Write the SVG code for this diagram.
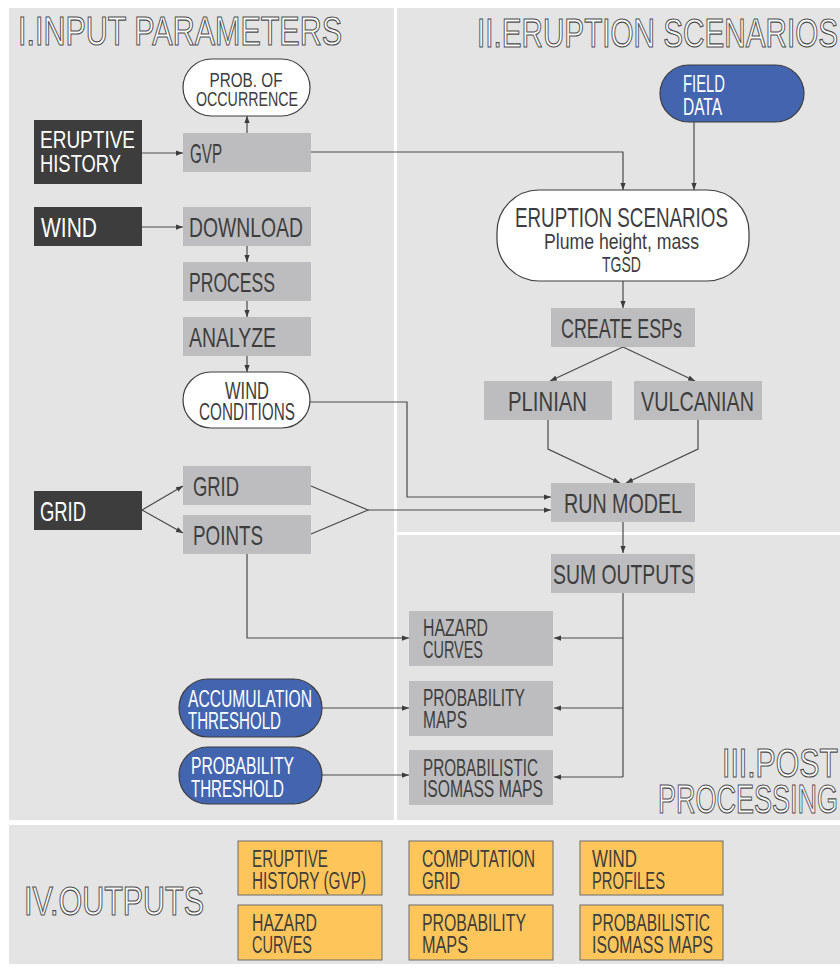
<svg xmlns="http://www.w3.org/2000/svg" width="840" height="968" viewBox="0 0 840 968">
<style>
text{font-family:"Liberation Sans Narrow","Liberation Sans",Arial,sans-serif;}
.panel{fill:#e4e4e4;}
.hdr{fill:#ffffff;stroke:#4f4f4f;stroke-width:1.2;font-size:40px;}
.gbox{fill:#bdbdc0;}
.dbox{fill:#3d3d3d;}
.pill{fill:#ffffff;stroke:#3d3d3d;stroke-width:1.2;}
.bpill{fill:#4365b0;stroke:#3d3d3d;stroke-width:1.2;}
.obox{fill:#fec65a;stroke:#6b6b6b;stroke-width:1;}
.t28{font-size:28px;fill:#3d3d3d;}
.t23{font-size:23px;fill:#3d3d3d;}
.w24{font-size:24px;fill:#ffffff;}
.w28{font-size:28px;fill:#ffffff;}
.c{text-anchor:middle;}
.conn path{fill:none;stroke:#4a4a4a;stroke-width:1.2;}
</style>
<defs>
<marker id="ah" viewBox="0 0 8 6" refX="8" refY="3" markerWidth="7" markerHeight="5.5" markerUnits="userSpaceOnUse" orient="auto">
<path d="M0,0 L8,3 L0,6 z" fill="#3d3d3d"/>
</marker>
</defs>
<rect width="840" height="968" fill="#ffffff"/>
<g id="panels">
<rect class="panel" x="9" y="8" width="385" height="812"/>
<rect class="panel" x="397" y="8" width="443" height="524"/>
<rect class="panel" x="397" y="535" width="443" height="285"/>
<rect class="panel" x="9" y="825" width="831" height="139"/>
</g>
<g id="headers">
<text class="hdr" x="18" y="45" textLength="324" lengthAdjust="spacingAndGlyphs">I.INPUT PARAMETERS</text>
<text class="hdr" x="477" y="47" textLength="361" lengthAdjust="spacingAndGlyphs">II.ERUPTION SCENARIOS</text>
<text class="hdr" x="722" y="777" textLength="116" lengthAdjust="spacingAndGlyphs">III.POST</text>
<text class="hdr" x="658" y="813" textLength="180" lengthAdjust="spacingAndGlyphs">PROCESSING</text>
<text class="hdr" x="24" y="915" textLength="180" lengthAdjust="spacingAndGlyphs">IV.OUTPUTS</text>
</g>
<g class="conn" id="connectors">
<path d="M142,153 H183" marker-end="url(#ah)"/>
<path d="M247,133 V116" marker-end="url(#ah)"/>
<path d="M311,152 H623 V190" marker-end="url(#ah)"/>
<path d="M694,122 V190" marker-end="url(#ah)"/>
<path d="M142,227 H183" marker-end="url(#ah)"/>
<path d="M247,246 V262" marker-end="url(#ah)"/>
<path d="M247,301 V317" marker-end="url(#ah)"/>
<path d="M247,356 V372" marker-end="url(#ah)"/>
<path d="M623,281 V308" marker-end="url(#ah)"/>
<path d="M623,347 L550,381" marker-end="url(#ah)"/>
<path d="M623,347 L695,381" marker-end="url(#ah)"/>
<path d="M548,420 V449 L620,483" marker-end="url(#ah)"/>
<path d="M698,420 V449 L626,483" marker-end="url(#ah)"/>
<path d="M310,402 H407 V497 H551" marker-end="url(#ah)"/>
<path d="M142,510 L183,486" marker-end="url(#ah)"/>
<path d="M142,510 L183,533" marker-end="url(#ah)"/>
<path d="M311,486 L368,510 L311,534"/>
<path d="M368,510 H551" marker-end="url(#ah)"/>
<path d="M623,522 V553" marker-end="url(#ah)"/>
<path d="M623,593 V777"/>
<path d="M623,638 H554" marker-end="url(#ah)"/>
<path d="M623,708 H554" marker-end="url(#ah)"/>
<path d="M623,777 H554" marker-end="url(#ah)"/>
<path d="M247,554 V638 H409" marker-end="url(#ah)"/>
<path d="M322,708 H409" marker-end="url(#ah)"/>
<path d="M322,775 H409" marker-end="url(#ah)"/>
</g>
<g id="prob-occurrence">
<rect class="pill" x="183" y="59" width="127" height="57" rx="28.5"/>
<text class="c" x="246" y="87" style="font-size:20px;fill:#3d3d3d" textLength="73" lengthAdjust="spacingAndGlyphs">PROB. OF</text>
<text class="c" x="247" y="106" style="font-size:20px;fill:#3d3d3d" textLength="102" lengthAdjust="spacingAndGlyphs">OCCURRENCE</text>
</g>
<g id="eruptive-history">
<rect class="dbox" x="34" y="120" width="108" height="64"/>
<text class="w24" x="40" y="148" textLength="95" lengthAdjust="spacingAndGlyphs">ERUPTIVE</text>
<text class="w24" x="40" y="172" textLength="81" lengthAdjust="spacingAndGlyphs">HISTORY</text>
</g>
<g id="gvp">
<rect class="gbox" x="183" y="133" width="128" height="39"/>
<text class="t28" x="190" y="163" textLength="32" lengthAdjust="spacingAndGlyphs">GVP</text>
</g>
<g id="wind">
<rect class="dbox" x="34" y="207" width="108" height="39"/>
<text class="w28" x="41" y="237" textLength="56" lengthAdjust="spacingAndGlyphs">WIND</text>
</g>
<g id="download">
<rect class="gbox" x="183" y="207" width="128" height="39"/>
<text class="t28" x="189" y="237" textLength="114" lengthAdjust="spacingAndGlyphs">DOWNLOAD</text>
</g>
<g id="process">
<rect class="gbox" x="183" y="262" width="128" height="39"/>
<text class="t28" x="189" y="292" textLength="86" lengthAdjust="spacingAndGlyphs">PROCESS</text>
</g>
<g id="analyze">
<rect class="gbox" x="183" y="317" width="128" height="39"/>
<text class="t28" x="189" y="347" textLength="87" lengthAdjust="spacingAndGlyphs">ANALYZE</text>
</g>
<g id="wind-conditions">
<rect class="pill" x="183" y="372" width="127" height="56" rx="28"/>
<text class="c t23" x="247" y="399" textLength="44" lengthAdjust="spacingAndGlyphs">WIND</text>
<text class="c t23" x="247" y="420" textLength="96" lengthAdjust="spacingAndGlyphs">CONDITIONS</text>
</g>
<g id="grid-input">
<rect class="dbox" x="34" y="491" width="108" height="39"/>
<text class="w28" x="40" y="521" textLength="46" lengthAdjust="spacingAndGlyphs">GRID</text>
</g>
<g id="grid">
<rect class="gbox" x="183" y="466" width="128" height="39"/>
<text class="t28" x="193" y="496" textLength="46" lengthAdjust="spacingAndGlyphs">GRID</text>
</g>
<g id="points">
<rect class="gbox" x="183" y="515" width="128" height="39"/>
<text class="t28" x="193" y="545" textLength="70" lengthAdjust="spacingAndGlyphs">POINTS</text>
</g>
<g id="field-data">
<rect class="bpill" x="660" y="65" width="144" height="57" rx="28.5"/>
<text class="w24" x="683" y="92" textLength="42" lengthAdjust="spacingAndGlyphs">FIELD</text>
<text class="w24" x="683" y="115" textLength="39" lengthAdjust="spacingAndGlyphs">DATA</text>
</g>
<g id="eruption-scenarios">
<rect class="pill" x="497" y="190" width="252" height="91" rx="42"/>
<text class="c t28" x="621.5" y="227" textLength="213" lengthAdjust="spacingAndGlyphs">ERUPTION SCENARIOS</text>
<text class="c" x="621.5" y="249" style="font-size:22px;fill:#3d3d3d" textLength="155" lengthAdjust="spacingAndGlyphs">Plume height, mass</text>
<text class="c" x="621.5" y="272" style="font-size:22px;fill:#3d3d3d" textLength="39" lengthAdjust="spacingAndGlyphs">TGSD</text>
</g>
<g id="create-esps">
<rect class="gbox" x="551" y="308" width="144" height="39"/>
<text class="t28" x="561" y="338" textLength="121" lengthAdjust="spacingAndGlyphs">CREATE ESPs</text>
</g>
<g id="plinian">
<rect class="gbox" x="484" y="381" width="128" height="39"/>
<text class="t28" x="508" y="411" textLength="79" lengthAdjust="spacingAndGlyphs">PLINIAN</text>
</g>
<g id="vulcanian">
<rect class="gbox" x="634" y="381" width="128" height="39"/>
<text class="t28" x="641" y="411" textLength="113" lengthAdjust="spacingAndGlyphs">VULCANIAN</text>
</g>
<g id="run-model">
<rect class="gbox" x="551" y="483" width="144" height="39"/>
<text class="t28" x="564" y="513" textLength="118" lengthAdjust="spacingAndGlyphs">RUN MODEL</text>
</g>
<g id="sum-outputs">
<rect class="gbox" x="551" y="554" width="144" height="39"/>
<text class="t28" x="553" y="584" textLength="141" lengthAdjust="spacingAndGlyphs">SUM OUTPUTS</text>
</g>
<g id="hazard-curves">
<rect class="gbox" x="409" y="611" width="144" height="55"/>
<text class="t23" x="423" y="636" textLength="65" lengthAdjust="spacingAndGlyphs">HAZARD</text>
<text class="t23" x="423" y="658" textLength="60" lengthAdjust="spacingAndGlyphs">CURVES</text>
</g>
<g id="probability-maps">
<rect class="gbox" x="409" y="681" width="144" height="55"/>
<text class="t23" x="423" y="706" textLength="102" lengthAdjust="spacingAndGlyphs">PROBABILITY</text>
<text class="t23" x="423" y="728" textLength="44" lengthAdjust="spacingAndGlyphs">MAPS</text>
</g>
<g id="probabilistic-isomass-maps">
<rect class="gbox" x="409" y="750" width="144" height="55"/>
<text class="t23" x="423" y="776" textLength="115" lengthAdjust="spacingAndGlyphs">PROBABILISTIC</text>
<text class="t23" x="423" y="797" textLength="120" lengthAdjust="spacingAndGlyphs">ISOMASS MAPS</text>
</g>
<g id="accumulation-threshold">
<rect class="bpill" x="179" y="679" width="143" height="58" rx="29"/>
<text x="188" y="707" style="font-size:23px;fill:#ffffff" textLength="124" lengthAdjust="spacingAndGlyphs">ACCUMULATION</text>
<text x="188" y="729" style="font-size:23px;fill:#ffffff" textLength="93" lengthAdjust="spacingAndGlyphs">THRESHOLD</text>
</g>
<g id="probability-threshold">
<rect class="bpill" x="179" y="747" width="143" height="57" rx="28.5"/>
<text x="191" y="774" style="font-size:23px;fill:#ffffff" textLength="103" lengthAdjust="spacingAndGlyphs">PROBABILITY</text>
<text x="191" y="797" style="font-size:23px;fill:#ffffff" textLength="93" lengthAdjust="spacingAndGlyphs">THRESHOLD</text>
</g>
<g id="out-eruptive-history">
<rect class="obox" x="238" y="841" width="144" height="54"/>
<text class="t23" x="252" y="867" textLength="76" lengthAdjust="spacingAndGlyphs">ERUPTIVE</text>
<text class="t23" x="252" y="889" textLength="114" lengthAdjust="spacingAndGlyphs">HISTORY (GVP)</text>
</g>
<g id="out-computation-grid">
<rect class="obox" x="409" y="841" width="144" height="54"/>
<text class="t23" x="422" y="867" textLength="113" lengthAdjust="spacingAndGlyphs">COMPUTATION</text>
<text class="t23" x="422" y="889" textLength="38" lengthAdjust="spacingAndGlyphs">GRID</text>
</g>
<g id="out-wind-profiles">
<rect class="obox" x="580" y="841" width="143" height="54"/>
<text class="t23" x="592" y="867" textLength="45" lengthAdjust="spacingAndGlyphs">WIND</text>
<text class="t23" x="592" y="889" textLength="73" lengthAdjust="spacingAndGlyphs">PROFILES</text>
</g>
<g id="out-hazard-curves">
<rect class="obox" x="238" y="905" width="144" height="55"/>
<text class="t23" x="252" y="931" textLength="65" lengthAdjust="spacingAndGlyphs">HAZARD</text>
<text class="t23" x="252" y="953" textLength="60" lengthAdjust="spacingAndGlyphs">CURVES</text>
</g>
<g id="out-probability-maps">
<rect class="obox" x="409" y="905" width="144" height="55"/>
<text class="t23" x="422" y="931" textLength="104" lengthAdjust="spacingAndGlyphs">PROBABILITY</text>
<text class="t23" x="422" y="953" textLength="46" lengthAdjust="spacingAndGlyphs">MAPS</text>
</g>
<g id="out-probabilistic-isomass-maps">
<rect class="obox" x="580" y="905" width="143" height="55"/>
<text class="t23" x="592" y="931" textLength="118" lengthAdjust="spacingAndGlyphs">PROBABILISTIC</text>
<text class="t23" x="592" y="953" textLength="121" lengthAdjust="spacingAndGlyphs">ISOMASS MAPS</text>
</g>
</svg>
